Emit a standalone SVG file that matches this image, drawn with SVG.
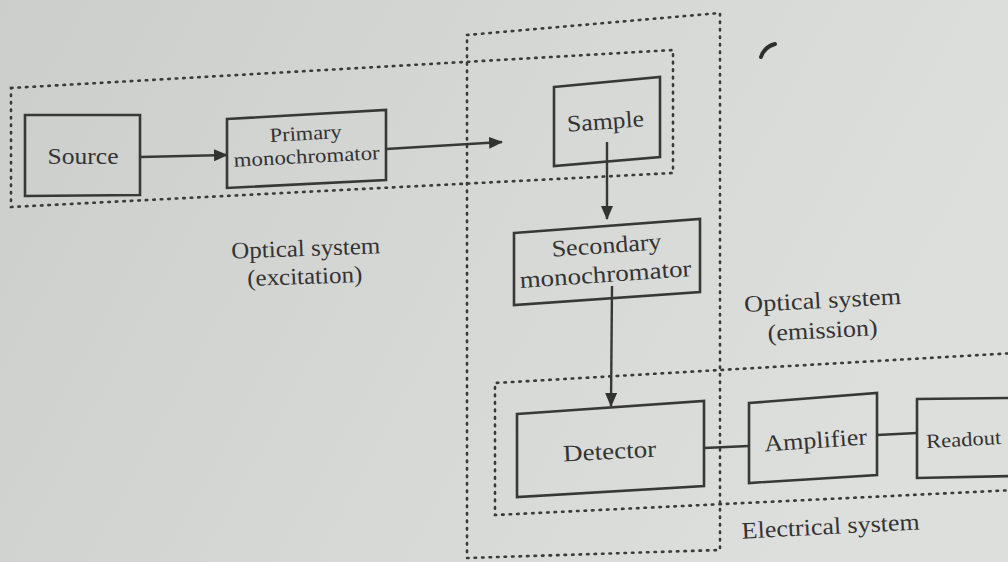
<svg xmlns="http://www.w3.org/2000/svg" width="1008" height="562" viewBox="0 0 1008 562">
  <defs>
    <linearGradient id="paper" x1="0" y1="0" x2="1" y2="0.3">
      <stop offset="0" stop-color="#cbcecb"/>
      <stop offset="0.55" stop-color="#d6d8d5"/>
      <stop offset="1" stop-color="#dddfdc"/>
    </linearGradient>
    <marker id="arrow" viewBox="0 0 14 12" refX="13" refY="6" markerWidth="14" markerHeight="12" markerUnits="userSpaceOnUse" orient="auto">
      <path d="M0,0 L14,6 L0,12 Z" fill="#333"/>
    </marker>
    <style>
      .box { fill: none; stroke: #383838; stroke-width: 2.6; stroke-linejoin: miter; }
      .zone { fill: none; stroke: #3a3a3a; stroke-width: 2.6; stroke-dasharray: 1.5 6; stroke-linecap: round; }
      .wire { fill: none; stroke: #383838; stroke-width: 2.4; }
      text { font-family: "Liberation Serif", "DejaVu Serif", serif; fill: #333; text-anchor: middle; }
      .lbl { font-size: 23.5px; }
      .sm { font-size: 20px; }
    </style>
  </defs>

  <rect width="1008" height="562" fill="url(#paper)"/>

  <!-- dotted system boundaries -->
  <g id="zones">
    <polygon class="zone" points="11,88 673,50 673,173 11,207"/>
    <polygon class="zone" points="467,35 720,13 720,550 467,558"/>
    <polyline class="zone" points="1015,353 495,383 495,515 1015,490"/>
  </g>

  <!-- connectors -->
  <g id="connectors">
    <line class="wire" x1="140" y1="157" x2="227" y2="155" marker-end="url(#arrow)"/>
    <line class="wire" x1="386" y1="149" x2="502" y2="142" marker-end="url(#arrow)"/>
    <line class="wire" x1="607" y1="142" x2="607" y2="219" marker-end="url(#arrow)"/>
    <line class="wire" x1="612" y1="286" x2="611" y2="406" marker-end="url(#arrow)"/>
    <line class="wire" x1="704" y1="448" x2="749" y2="446"/>
    <line class="wire" x1="877" y1="435" x2="917" y2="433"/>
  </g>

  <g id="source">
    <polygon class="box" points="25,115 140,115 140,195 25,196"/>
    <text class="lbl" x="83" y="164" textLength="71" lengthAdjust="spacingAndGlyphs">Source</text>
  </g>

  <g id="primary-monochromator">
    <polygon class="box" points="227,119 386,110 386,180 227,188"/>
    <text class="sm" x="306" y="140" transform="rotate(-3 306 140)" textLength="72" lengthAdjust="spacingAndGlyphs">Primary</text>
    <text class="sm" x="307" y="163" transform="rotate(-3 307 163)" textLength="146" lengthAdjust="spacingAndGlyphs">monochromator</text>
  </g>

  <g id="sample">
    <polygon class="box" points="554,87 660,77 660,157 554,166"/>
    <text class="lbl" x="606" y="129" transform="rotate(-4 606 129)" textLength="77" lengthAdjust="spacingAndGlyphs">Sample</text>
  </g>

  <g id="secondary-monochromator">
    <polygon class="box" points="514,233 700,219 700,292 514,305"/>
    <text class="lbl" x="607" y="253" transform="rotate(-4 607 253)" textLength="110" lengthAdjust="spacingAndGlyphs">Secondary</text>
    <text class="lbl" x="606" y="282" transform="rotate(-4 606 282)" textLength="172" lengthAdjust="spacingAndGlyphs">monochromator</text>
  </g>

  <g id="detector">
    <polygon class="box" points="517,414 704,401 704,486 517,497"/>
    <text class="lbl" x="610" y="459" transform="rotate(-3 610 459)" textLength="93" lengthAdjust="spacingAndGlyphs">Detector</text>
  </g>

  <g id="amplifier">
    <polygon class="box" points="749,403 877,393 877,475 749,483"/>
    <text class="lbl" x="816" y="448" transform="rotate(-4 816 448)" textLength="103" lengthAdjust="spacingAndGlyphs">Amplifier</text>
  </g>

  <g id="readout">
    <polyline class="box" points="1015,398 917,399 917,478 1015,476"/>
    <text class="sm" x="964" y="446" transform="rotate(-3 964 446)" textLength="75" lengthAdjust="spacingAndGlyphs">Readout</text>
  </g>

  <!-- system labels -->
  <g id="labels">
    <text class="lbl" x="306" y="256" transform="rotate(-2 306 256)" textLength="149" lengthAdjust="spacingAndGlyphs">Optical system</text>
    <text class="lbl" x="305" y="284" transform="rotate(-2 305 284)" textLength="115" lengthAdjust="spacingAndGlyphs">(excitation)</text>
    <text class="lbl" x="823" y="308" transform="rotate(-3 823 308)" textLength="157" lengthAdjust="spacingAndGlyphs">Optical system</text>
    <text class="lbl" x="823" y="338" transform="rotate(-3 823 338)" textLength="110" lengthAdjust="spacingAndGlyphs">(emission)</text>
    <text class="lbl" x="831" y="534" transform="rotate(-3 831 534)" textLength="178" lengthAdjust="spacingAndGlyphs">Electrical system</text>
  </g>

  <!-- small ink mark near the top -->
  <path d="M761,57 Q764,47 775,44" fill="none" stroke="#2e2e2e" stroke-width="4" stroke-linecap="round"/>
</svg>
